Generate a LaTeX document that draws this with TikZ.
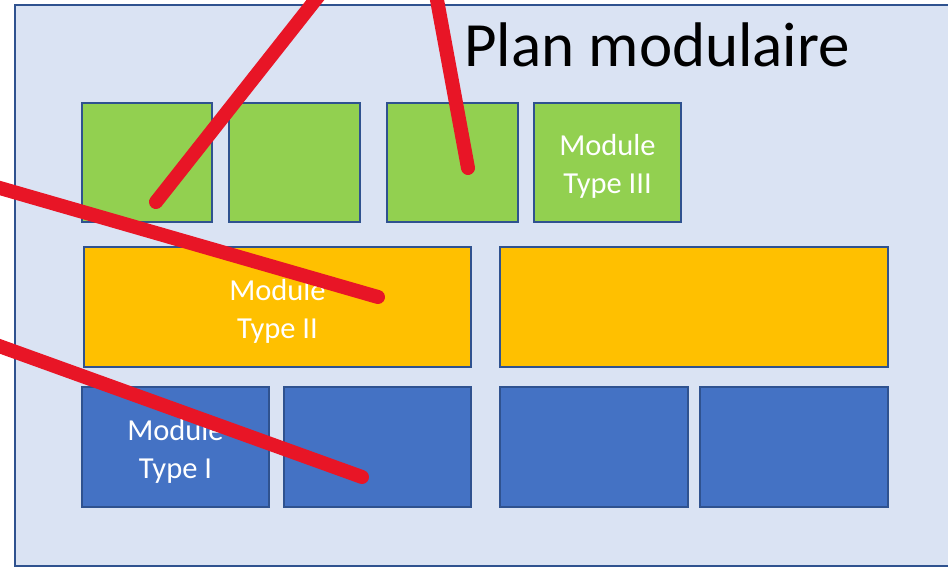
\documentclass[tikz,border=0pt]{standalone}
\usepackage{fontspec}
\setmainfont{Carlito}
\definecolor{bgblue}{HTML}{DAE3F3}
\definecolor{edgeblue}{HTML}{2F528F}
\definecolor{modgreen}{HTML}{92D050}
\definecolor{modyellow}{HTML}{FFC000}
\definecolor{modblue}{HTML}{4472C4}
\definecolor{strike}{HTML}{E81526}
\begin{document}
\begin{tikzpicture}[x=1pt,y=-1pt,
  module/.style={draw=edgeblue,line width=2pt,anchor=north west,inner sep=0pt,outer sep=0pt},
  modtext/.style={text=white,align=center,inner sep=0pt,yshift=-4pt,
    font=\fontsize{30.5pt}{38pt}\selectfont},
  greenmod/.style={module,fill=modgreen,minimum height=119pt},
  yellowmod/.style={module,fill=modyellow,minimum height=120pt},
  bluemod/.style={module,fill=modblue,minimum height=120pt},
  strikeline/.style={draw=strike,line width=14pt,line cap=round}]
\useasboundingbox (0,0) rectangle (948,567);
\clip (0,0) rectangle (948,567);
\draw[draw=edgeblue,line width=2pt,fill=bgblue] (15,5) rectangle (970,566);
\node[anchor=base west,inner sep=0pt,font=\fontsize{63pt}{75pt}\selectfont] (title) at (464,67) {Plan modulaire};
% green row
\node[greenmod,minimum width=130pt] (g1) at (82,103) {};
\node[greenmod,minimum width=131pt] (g2) at (229,103) {};
\node[greenmod,minimum width=131pt] (g3) at (387,103) {};
\node[greenmod,minimum width=147pt] (g4) at (534,103) {};
% yellow row
\node[yellowmod,minimum width=387pt] (y1) at (84,247) {};
\node[yellowmod,minimum width=388pt] (y2) at (500,247) {};
% blue row
\node[bluemod,minimum width=187pt] (b1) at (82,387) {};
\node[bluemod,minimum width=187pt] (b2) at (284,387) {};
\node[bluemod,minimum width=188pt] (b3) at (500,387) {};
\node[bluemod,minimum width=188pt] (b4) at (700,387) {};
% labels
\node[modtext] (g4t) at (g4.center) {Module\\Type III};
\node[modtext] (y1t) at (y1.center) {Module\\Type II};
\node[modtext] (b1t) at (b1.center) {Module\\Type I};
% red strokes
\coordinate (sA) at (339,-30);
\coordinate (eA) at (156,202);
\coordinate (sB) at (431.5,-30);
\coordinate (eB) at (468,168);
\coordinate (sC) at (-30,179.4);
\coordinate (eC) at (378,297);
\coordinate (sD) at (-30,335.5);
\coordinate (eD) at (362,477);
\draw[strikeline] (sA) -- (eA);
\draw[strikeline] (sB) -- (eB);
\draw[strikeline] (sC) -- (eC);
\draw[strikeline] (sD) -- (eD);
\end{tikzpicture}
\end{document}
